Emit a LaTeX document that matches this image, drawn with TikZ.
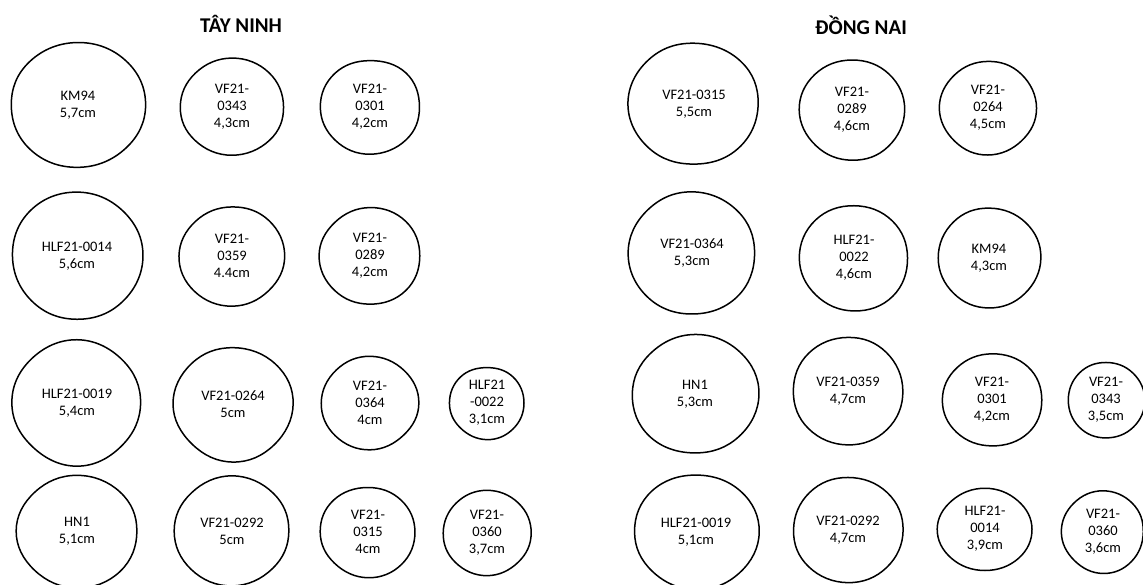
\documentclass[tikz,border=0pt]{standalone}
\usepackage{fontspec}
\setmainfont{Carlito}
\tikzset{
  blobline/.style={draw=black, line width=1.5pt},
  lbl/.style={align=center, inner sep=0pt, font=\fontsize{14.5}{17}\selectfont},
  ttl/.style={anchor=base, inner sep=0pt, font=\fontsize{21}{25}\selectfont\bfseries}
}
\newcommand\blob[7]{%
  \pgfmathsetseed{#6}%
  \draw[blobline] plot[smooth cycle, tension=0.7, domain=0:315, samples=8, variable=\t]
    ({#2+#4*cos(\t)*(1+0.022*rand)},{#3+#5*sin(\t)*(1+0.022*rand)});
  \node[lbl] (#1) at (#2,#3) {#7};
}
\begin{document}
\begin{tikzpicture}[x=1pt,y=-1pt]
\useasboundingbox (0,0) rectangle (1143,585);
% titles
\node[ttl] (ttn) at (241,33) {TÂY NINH};
\node[ttl] (tdn) at (861,35) {ĐỒNG NAI};
% Tay Ninh
\blob{a1}{78}{105}{67}{62}{11}{KM94\\5,7cm}
\blob{a2}{232}{107}{52}{48}{12}{VF21-\\0343\\4,3cm}
\blob{a3}{370}{107}{50}{47}{13}{VF21-\\0301\\4,2cm}
\blob{b1}{77}{256}{65}{63}{14}{HLF21-0014\\5,6cm}
\blob{b2}{232}{256}{52}{50}{15}{VF21-\\0359\\4.4cm}
\blob{b3}{370}{256}{50}{48}{16}{VF21-\\0289\\4,2cm}
\blob{c1}{77}{403}{64}{62}{17}{HLF21-0019\\5,4cm}
\blob{c2}{233}{404}{59}{57}{18}{VF21-0264\\5cm}
\blob{c3}{370}{403}{48}{46}{19}{VF21-\\0364\\4cm}
\blob{c4}{487}{403}{37}{36}{20}{HLF21\\-0022\\3,1cm}
\blob{d1}{77}{531}{60}{56}{21}{HN1\\5,1cm}
\blob{d2}{232}{531}{58}{54}{22}{VF21-0292\\5cm}
\blob{d3}{368}{532}{48}{45}{23}{VF21-\\0315\\4cm}
\blob{d4}{487}{533}{44}{42}{24}{VF21-\\0360\\3,7cm}
% Dong Nai
\blob{e1}{694}{104}{65}{61}{31}{VF21-0315\\5,5cm}
\blob{e2}{852}{110}{52}{51}{32}{VF21-\\0289\\4,6cm}
\blob{e3}{988}{108}{48}{47}{33}{VF21-\\0264\\4,5cm}
\blob{f1}{692}{253}{63}{61}{34}{VF21-0364\\5,3cm}
\blob{f2}{854}{258}{54}{53}{35}{HLF21-\\0022\\4,6cm}
\blob{f3}{989}{258}{51}{50}{36}{KM94\\4,3cm}
\blob{g1}{695}{394}{63}{59}{37}{HN1\\5,3cm}
\blob{g2}{848}{391}{55}{54}{38}{VF21-0359\\4,7cm}
\blob{g3}{992}{400}{50}{46}{39}{VF21-\\0301\\4,2cm}
\blob{g4}{1106}{400}{38}{38}{40}{VF21-\\0343\\3,5cm}
\blob{h1}{696}{532}{62}{57}{41}{HLF21-0019\\5,1cm}
\blob{h2}{848}{530}{55}{52}{42}{VF21-0292\\4,7cm}
\blob{h3}{985}{529}{47}{41}{43}{HLF21-\\0014\\3,9cm}
\blob{h4}{1103}{532}{41}{41}{44}{VF21-\\0360\\3,6cm}
\end{tikzpicture}
\end{document}
